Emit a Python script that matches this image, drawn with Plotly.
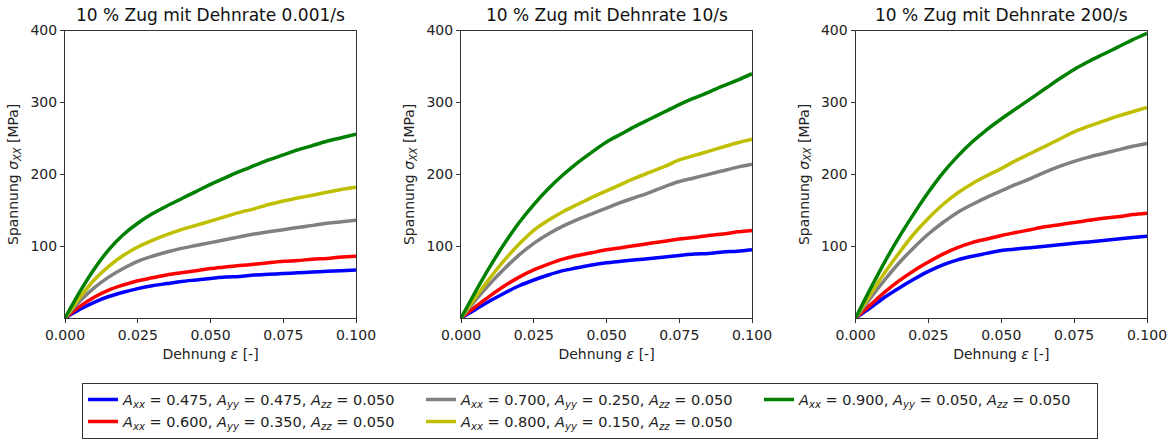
import plotly.graph_objects as go

strain = [round(i * 0.005, 3) for i in range(21)]

titles = ["10 % Zug mit Dehnrate 0.001/s", "10 % Zug mit Dehnrate 10/s", "10 % Zug mit Dehnrate 200/s"]

labels = [
    "<i>A</i><sub><i>xx</i></sub> = 0.475, <i>A</i><sub><i>yy</i></sub> = 0.475, <i>A</i><sub><i>zz</i></sub> = 0.050",
    "<i>A</i><sub><i>xx</i></sub> = 0.600, <i>A</i><sub><i>yy</i></sub> = 0.350, <i>A</i><sub><i>zz</i></sub> = 0.050",
    "<i>A</i><sub><i>xx</i></sub> = 0.700, <i>A</i><sub><i>yy</i></sub> = 0.250, <i>A</i><sub><i>zz</i></sub> = 0.050",
    "<i>A</i><sub><i>xx</i></sub> = 0.800, <i>A</i><sub><i>yy</i></sub> = 0.150, <i>A</i><sub><i>zz</i></sub> = 0.050",
    "<i>A</i><sub><i>xx</i></sub> = 0.900, <i>A</i><sub><i>yy</i></sub> = 0.050, <i>A</i><sub><i>zz</i></sub> = 0.050",
]
colors = ["#0000ff", "#ff0000", "#808080", "#bfbf00", "#008000"]
legend_rank = [1, 4, 2, 5, 3]

# Panel 1: rate 0.001/s
p1_blue = [0, 12, 22, 30, 36, 41, 45, 48, 51, 53, 55, 57, 58, 60, 61, 62, 63, 64, 65, 66, 67]
p1_red = [0, 16, 29, 39, 46, 52, 56, 60, 63, 66, 69, 71, 73, 75, 77, 79, 80, 82, 83, 85, 86]
p1_gray = [0, 23, 42, 57, 69, 79, 86, 92, 97, 101, 105, 109, 113, 117, 120, 123, 126, 129, 132, 134, 136]
p1_yellow = [0, 28, 53, 72, 87, 99, 108, 116, 123, 129, 135, 141, 147, 152, 158, 163, 167, 171, 175, 179, 182]
p1_green = [0, 36, 68, 95, 116, 132, 145, 156, 166, 176, 186, 195, 204, 212, 220, 227, 234, 240, 246, 251, 256]

# Panel 2: rate 10/s
p2_blue = [0, 12, 24, 35, 45, 53, 60, 66, 70, 74, 77, 79, 81, 83, 85, 87, 89, 90, 92, 93, 95]
p2_red = [0, 16, 31, 45, 57, 67, 75, 82, 87, 91, 95, 98, 101, 104, 107, 110, 112, 115, 117, 120, 122]
p2_gray = [0, 25, 48, 69, 88, 104, 117, 128, 137, 145, 153, 161, 168, 175, 183, 190, 195, 200, 205, 210, 214]
p2_yellow = [0, 29, 56, 81, 103, 122, 136, 148, 158, 168, 177, 186, 195, 203, 211, 220, 226, 232, 238, 244, 249]
p2_green = [0, 37, 72, 104, 133, 158, 180, 199, 216, 231, 245, 256, 267, 277, 287, 297, 306, 314, 323, 331, 340]

# Panel 3: rate 200/s
p3_blue = [0, 14, 29, 42, 54, 65, 74, 81, 86, 90, 94, 96, 98, 100, 102, 104, 106, 108, 110, 112, 114]
p3_red = [0, 18, 36, 52, 66, 78, 89, 98, 105, 110, 115, 119, 123, 127, 130, 133, 136, 139, 141, 144, 146]
p3_gray = [0, 27, 53, 77, 98, 117, 133, 147, 158, 168, 177, 186, 194, 203, 211, 218, 224, 229, 234, 239, 243]
p3_yellow = [0, 32, 63, 91, 117, 139, 158, 174, 187, 198, 208, 219, 229, 239, 249, 259, 267, 274, 281, 287, 293]
p3_green = [0, 40, 78, 113, 145, 175, 202, 225, 245, 262, 277, 291, 305, 319, 333, 346, 357, 367, 377, 387, 396]

panels = [
    [p1_blue, p1_red, p1_gray, p1_yellow, p1_green],
    [p2_blue, p2_red, p2_gray, p2_yellow, p2_green],
    [p3_blue, p3_red, p3_gray, p3_yellow, p3_green],
]

W, H = 1171, 439


def px(x):
    return x / W


def py(y):
    return 1 - y / H


x_domains = [(px(65), px(356)), (px(461), px(752)), (px(855.5), px(1147))]
y_domain = (py(322.5), py(31))

FONT = "DejaVu Sans"
fig = go.Figure()

for pi, series in enumerate(panels):
    xa = "x" if pi == 0 else f"x{pi + 1}"
    ya = "y" if pi == 0 else f"y{pi + 1}"
    for si, vals in enumerate(series):
        fig.add_trace(go.Scatter(
            x=strain, y=vals, mode="lines",
            line=dict(color=colors[si], width=3.5, shape="spline", smoothing=0.8),
            name=labels[si], legendrank=legend_rank[si],
            showlegend=(pi == 0), xaxis=xa, yaxis=ya,
        ))

axis_common = dict(
    showgrid=False, zeroline=False, showline=True, mirror=True, automargin=False,
    linecolor="#333333", linewidth=1, ticks="outside", ticklen=4,
    tickcolor="#333333", tickfont=dict(family=FONT, size=14, color="#222222"),
)

layout = dict(
    width=W, height=H,
    margin=dict(l=0, r=0, t=0, b=0),
    paper_bgcolor="white", plot_bgcolor="white",
    font=dict(family=FONT, color="#222222"),
    showlegend=True,
    legend=dict(
        orientation="h", x=px(82), y=py(388), xanchor="left", yanchor="top",
        entrywidth=293, entrywidthmode="pixels",
        bordercolor="#333333", borderwidth=1, bgcolor="white",
        font=dict(family=FONT, size=14.5, color="#222222"),
        traceorder="normal",
    ),
    annotations=[],
)

for pi in range(3):
    xk = "xaxis" if pi == 0 else f"xaxis{pi + 1}"
    yk = "yaxis" if pi == 0 else f"yaxis{pi + 1}"
    anchor_x = "y" if pi == 0 else f"y{pi + 1}"
    anchor_y = "x" if pi == 0 else f"x{pi + 1}"
    layout[xk] = dict(
        axis_common, domain=list(x_domains[pi]), anchor=anchor_x,
        range=[0, 0.1], tickvals=[0, 0.025, 0.05, 0.075, 0.1],
        ticktext=["0.000", "0.025", "0.050", "0.075", "0.100"],
        title=dict(text="Dehnung <i>ε</i> [-]", font=dict(family=FONT, size=14), standoff=7),
    )
    layout[yk] = dict(
        axis_common, domain=list(y_domain), anchor=anchor_y,
        range=[0, 400], tickvals=[100, 200, 300, 400],
        title=dict(text="Spannung <i>σ</i><sub><i>XX</i></sub> [MPa]", font=dict(family=FONT, size=14), standoff=8),
    )
    layout["annotations"].append(dict(
        text=titles[pi], xref="paper", yref="paper",
        x=(x_domains[pi][0] + x_domains[pi][1]) / 2, y=py(15),
        xanchor="center", yanchor="middle", showarrow=False,
        font=dict(family=FONT, size=17, color="#111111"),
    ))

fig.update_layout(**layout)
# remove the default 8px page margin so the figure fills the window exactly
fig.write_html(
    "out.html",
    config={"displayModeBar": False},
    post_script="document.body.style.margin='0';document.body.style.overflow='hidden';",
)
